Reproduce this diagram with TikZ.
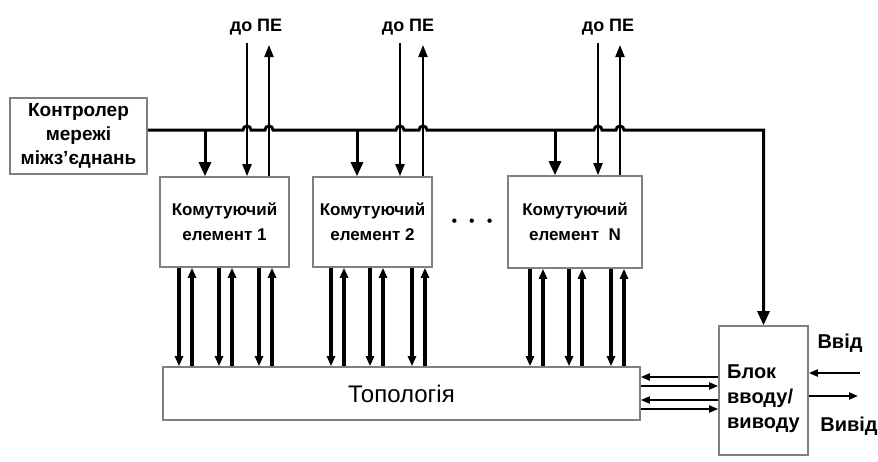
\documentclass[tikz,border=0pt]{standalone}
\usepackage{fontspec}
\setmainfont{Liberation Sans}
\usetikzlibrary{arrows.meta}

\begin{document}
\begin{tikzpicture}[
  x=0.5pt, y=-0.5pt,
  font=\bfseries\fontsize{8.5}{12.5}\selectfont,
  block/.style={draw=black!50, line width=0.8pt, fill=white,
                align=center, inner sep=2pt},
  bus/.style={line width=1.5pt},
  tap/.style={line width=1.5pt, -{Triangle[length=7pt,width=6pt]}},
  peline/.style={line width=1pt, -{Triangle[length=6pt,width=4.5pt]}},
  link/.style={line width=1.6pt, -{Triangle[length=5pt,width=4pt]}},
  port/.style={line width=1pt, -{Triangle[length=4.5pt,width=3.5pt]}},
]
\useasboundingbox (0,0) rectangle (878,461);

% ── Controller ────────────────────────────────────────────────────────────────
\node[block, minimum width=68.5pt, minimum height=38pt,
      font=\bfseries\fontsize{9.5}{12}\selectfont] (ctrl) at (78.5,136)
  {Контролер\\мережі\\міжз’єднань};

% ── Switching elements ────────────────────────────────────────────────────────
\node[block, minimum width=64.5pt, minimum height=45pt] (pe1) at (224.5,222)
  {Комутуючий\\елемент 1};
\node[block, minimum width=59.5pt, minimum height=45pt] (pe2) at (372.5,222)
  {Комутуючий\\елемент 2};
\node[block, minimum width=67pt, minimum height=46pt] (peN) at (575,222)
  {Комутуючий\\елемент~~N};
\node[font=\fontsize{8}{8}\selectfont] (dots) at (472,223)
  {•\hspace{6pt}•\hspace{6pt}•};

% ── Topology and I/O block ────────────────────────────────────────────────────
\node[block, minimum width=238.5pt, minimum height=26.5pt,
      font=\fontsize{12}{14}\selectfont] (topo) at (401.5,393.5) {Топологія};
\node[block, minimum width=44.5pt, minimum height=64.5pt,
      font=\bfseries\fontsize{10}{12.5}\selectfont] (io) at (763.5,390.5)
  {\begin{tabular}{@{}l@{}}\rule{0pt}{17pt}Блок\\вводу/\\виводу\end{tabular}};

% ── Labels ────────────────────────────────────────────────────────────────────
\foreach \n/\xl in {1/256, 2/408, N/608}
  \node[font=\bfseries\fontsize{9}{11}\selectfont] (lbl\n) at (\xl,27) {до ПЕ};
\node[font=\bfseries\fontsize{10}{12}\selectfont] (inlbl) at (840,343) {Ввід};
\node[font=\bfseries\fontsize{10}{12}\selectfont] (outlbl) at (849,426) {Вивід};

% ── Control bus ───────────────────────────────────────────────────────────────
\coordinate (busY) at (0,130);
\draw[bus, -{Triangle[length=7pt,width=6pt]}] (ctrl.east |- busY)
  \foreach \h in {247,269,400,423,598,620} {
    -- (\h-4,130) arc[start angle=180, end angle=0, radius=2pt] }
  -- (io.north |- busY) -- (io.north);

% ── Taps and PE lines ─────────────────────────────────────────────────────────
\foreach \n/\a/\b/\c in {pe1/205/247/269, pe2/357/400/423, peN/555/598/620} {
  \coordinate (in-\n) at (\b,43);
  \coordinate (out-\n) at (\c,45);
  \draw[tap] (busY -| \a,0) -- (\n.north -| \a,0);
  \draw[peline] (in-\n) -- (\n.north -| in-\n);
  \draw[peline] (\n.north -| out-\n) -- (out-\n);
}

% ── Links to topology ─────────────────────────────────────────────────────────
\foreach \n/\x in {pe1/179, pe1/219, pe1/259, pe2/331, pe2/370, pe2/412,
                   peN/530, peN/569, peN/611} {
  \pgfmathsetmacro{\xu}{\x+13}
  \coordinate (dn) at (\x,0);
  \coordinate (up) at (\xu,0);
  \draw[link] (\n.south -| dn) -- (topo.north -| dn);
  \draw[link] (topo.north -| up) -- (\n.south -| up);
}

% ── Topology <-> I/O ──────────────────────────────────────────────────────────
\draw[port] (io.west |- 0,377) -- (topo.east |- 0,377);
\draw[port] (topo.east |- 0,386) -- (io.west |- 0,386);
\draw[port] (io.west |- 0,400) -- (topo.east |- 0,400);
\draw[port] (topo.east |- 0,409) -- (io.west |- 0,409);

% ── External input / output ───────────────────────────────────────────────────
\coordinate (inP) at (860,373);
\coordinate (outP) at (858,396);
\draw[port] (inP) -- (io.east |- inP);
\draw[port] (io.east |- outP) -- (outP);

\end{tikzpicture}
\end{document}
